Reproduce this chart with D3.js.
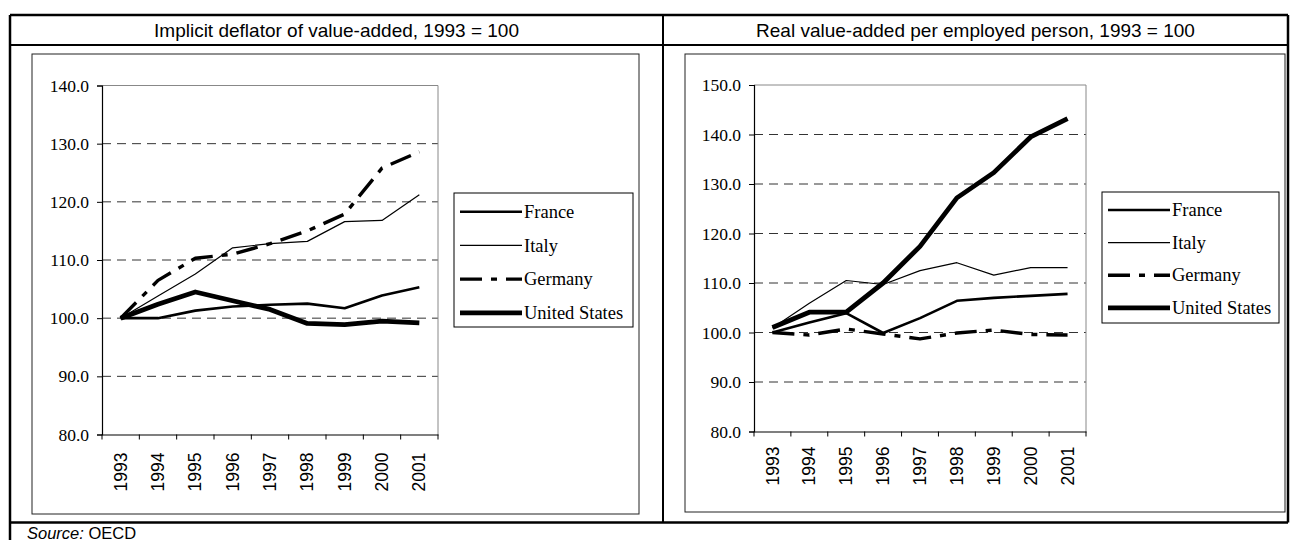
<!DOCTYPE html>
<html>
<head>
<meta charset="utf-8">
<script src="https://cdn.jsdelivr.net/npm/d3@7"></script>
<style>
  html, body { margin: 0; padding: 0; background: #fff; }
  svg { display: block; }
</style>
</head>
<body>
<svg id="chart" width="1294" height="540"></svg>
<script>
// ---------- DATA ----------
const years = ["1993", "1994", "1995", "1996", "1997", "1998", "1999", "2000", "2001"];
const seriesNames = ["France", "Italy", "Germany", "United States"];

// Left panel: implicit deflator of value-added, 1993 = 100
const deflFrance  = [100.0, 100.0, 101.3, 102.0, 102.3, 102.5, 101.7, 103.9, 105.3];
const deflItaly   = [100.0, 103.8, 107.6, 112.1, 112.8, 113.2, 116.6, 116.8, 121.2];
const deflGermany = [100.0, 106.5, 110.3, 111.0, 112.8, 115.0, 117.9, 125.8, 128.6];
const deflUS      = [100.0, 102.4, 104.5, 103.0, 101.5, 99.1, 98.9, 99.5, 99.2];
const deflTicks   = [80, 90, 100, 110, 120, 130, 140];

// Right panel: real value-added per employed person, 1993 = 100
const prodFrance  = [100.0, 102.0, 103.9, 99.9, 102.9, 106.4, 107.0, 107.4, 107.8];
const prodItaly   = [100.9, 105.9, 110.5, 109.7, 112.5, 114.1, 111.6, 113.1, 113.1];
const prodGermany = [100.0, 99.5, 100.7, 99.7, 98.7, 99.9, 100.5, 99.6, 99.5];
const prodUS      = [101.0, 104.1, 104.1, 110.0, 117.4, 127.2, 132.3, 139.5, 143.2];
const prodTicks   = [80, 90, 100, 110, 120, 130, 140, 150];

const titleLeft  = "Implicit deflator of value-added, 1993 = 100";
const titleRight = "Real value-added per employed person, 1993 = 100";

// ---------- STYLES ----------
const styles = {
  "France":        { width: 2.6, dash: null },
  "Italy":         { width: 1.2, dash: null },
  "Germany":       { width: 3.4, dash: "22,9,6,9" },
  "United States": { width: 4.8, dash: null }
};

const svg = d3.select("#chart");

// ---------- OUTER TABLE ----------
const T = { left: 10, right: 1288, top: 15, titleBottom: 45, rowBottom: 522.5, mid: 663 };
const tbl = svg.append("g").attr("stroke", "#000").attr("fill", "none");
tbl.append("line").attr("x1", T.left).attr("x2", T.right).attr("y1", T.top).attr("y2", T.top).attr("stroke-width", 2.5);
tbl.append("line").attr("x1", T.left).attr("x2", T.right).attr("y1", T.titleBottom).attr("y2", T.titleBottom).attr("stroke-width", 2);
tbl.append("line").attr("x1", T.left).attr("x2", T.right).attr("y1", T.rowBottom).attr("y2", T.rowBottom).attr("stroke-width", 2.5);
tbl.append("line").attr("x1", T.left).attr("x2", T.left).attr("y1", T.top).attr("y2", 545).attr("stroke-width", 2.5);
tbl.append("line").attr("x1", T.right).attr("x2", T.right).attr("y1", T.top).attr("y2", T.rowBottom).attr("stroke-width", 2.5);
tbl.append("line").attr("x1", T.mid).attr("x2", T.mid).attr("y1", T.top).attr("y2", T.rowBottom).attr("stroke-width", 2);

svg.append("text").attr("x", (T.left + T.mid) / 2).attr("y", 37)
  .attr("text-anchor", "middle").attr("font-family", "Liberation Sans, Arial, sans-serif")
  .attr("font-size", 19).text(titleLeft);
svg.append("text").attr("x", (T.mid + T.right) / 2).attr("y", 37)
  .attr("text-anchor", "middle").attr("font-family", "Liberation Sans, Arial, sans-serif")
  .attr("font-size", 19).text(titleRight);

const src = svg.append("text").attr("x", 27).attr("y", 538.5)
  .attr("font-family", "Liberation Sans, Arial, sans-serif").attr("font-size", 16.5);
src.append("tspan").attr("font-style", "italic").text("Source:");
src.append("tspan").text(" OECD");

// ---------- PANEL ----------
function panel(cfg) {
  const g = svg.append("g");
  // chart frame
  g.append("rect").attr("x", cfg.frame[0]).attr("y", cfg.frame[1])
    .attr("width", cfg.frame[2] - cfg.frame[0]).attr("height", cfg.frame[3] - cfg.frame[1])
    .attr("fill", "#fff").attr("stroke", "#222").attr("stroke-width", 1);

  const x = d3.scaleBand().domain(years).range([cfg.plot[0], cfg.plot[2]]).padding(0);
  const y = d3.scaleLinear().domain([cfg.ticks[0], cfg.ticks[cfg.ticks.length - 1]])
    .range([cfg.plot[3], cfg.plot[1]]);

  // grid lines
  g.append("g").selectAll("line")
    .data(cfg.ticks.slice(1, -1)).join("line")
    .attr("x1", cfg.plot[0]).attr("x2", cfg.plot[2])
    .attr("y1", d => y(d)).attr("y2", d => y(d))
    .attr("stroke", "#333").attr("stroke-width", 1).attr("stroke-dasharray", "9,6");

  // plot border (top & right), gray
  const top = y(cfg.ticks[cfg.ticks.length - 1]);
  g.append("path")
    .attr("d", `M${cfg.plot[0]},${top}H${cfg.plot[2]}V${cfg.plot[3]}`)
    .attr("fill", "none").attr("stroke", "#888").attr("stroke-width", 1);

  // y axis
  const ya = g.append("g").attr("transform", `translate(${cfg.plot[0]},0)`)
    .call(d3.axisLeft(y).tickValues(cfg.ticks).tickFormat(d3.format(".1f")).tickSize(5).tickPadding(8));
  ya.attr("font-family", "Liberation Serif, Times New Roman, serif").attr("font-size", 17.5);
  ya.select(".domain").attr("stroke", "#000").attr("stroke-width", 1.2);
  ya.selectAll(".tick line").attr("stroke", "#000");
  ya.selectAll("text").attr("fill", "#000")
    .style("font-family", "'Liberation Serif', 'Times New Roman', serif").style("font-size", "17.5px");

  // x axis (ticks between categories)
  const xa = g.append("g").attr("transform", `translate(0,${cfg.plot[3]})`);
  xa.call(d3.axisBottom(x).tickSize(0).tickSizeOuter(0));
  xa.select(".domain").attr("stroke", "#000").attr("stroke-width", 1.2);
  xa.selectAll(".tick text")
    .style("font-family", "'Liberation Sans', Arial, sans-serif").style("font-size", "17.5px")
    .attr("fill", "#000")
    .attr("text-anchor", "end").attr("dy", "0.35em")
    .attr("transform", `translate(0,${cfg.labelGap}) rotate(-90)`)
    .attr("x", 0).attr("y", 0);
  const bounds = years.map(d => x(d)).concat([x(years[years.length - 1]) + x.bandwidth()]);
  xa.selectAll("line.btick").data(bounds).join("line").attr("class", "btick")
    .attr("x1", d => d).attr("x2", d => d).attr("y1", 0).attr("y2", 5)
    .attr("stroke", "#000").attr("stroke-width", 1);

  // lines
  const line = d3.line().x((d, i) => x(years[i]) + x.bandwidth() / 2).y(d => y(d));
  const order = ["Italy", "France", "Germany", "United States"];
  order.forEach(name => {
    const st = styles[name];
    g.append("path").datum(cfg.data[name])
      .attr("d", line).attr("fill", "none").attr("stroke", "#000")
      .attr("stroke-width", st.width).attr("stroke-linejoin", "round")
      .attr("stroke-dasharray", st.dash);
  });

  // legend
  const L = cfg.legend;
  const lg = g.append("g");
  lg.append("rect").attr("x", L.x0).attr("y", L.y0).attr("width", L.x1 - L.x0).attr("height", L.y1 - L.y0)
    .attr("fill", "#fff").attr("stroke", "#000").attr("stroke-width", 1);
  seriesNames.forEach((name, i) => {
    const yy = L.y0 + L.first + i * L.step;
    const st = styles[name];
    lg.append("line").attr("x1", L.x0 + 6).attr("x2", L.x0 + 68).attr("y1", yy).attr("y2", yy)
      .attr("stroke", "#000").attr("stroke-width", st.width).attr("stroke-dasharray", st.dash);
    lg.append("text").attr("x", L.x0 + 70).attr("y", yy).attr("dy", "0.33em")
      .style("font-family", "'Liberation Serif', 'Times New Roman', serif").style("font-size", "18.5px")
      .text(name);
  });
}

panel({
  frame: [32, 54, 639, 514],
  plot: [102, 85.5, 438, 434.5],
  ticks: deflTicks,
  labelGap: 18,
  data: { "France": deflFrance, "Italy": deflItaly, "Germany": deflGermany, "United States": deflUS },
  legend: { x0: 454, x1: 633, y0: 193, y1: 327, first: 18.7, step: 33.7 }
});

panel({
  frame: [685, 54, 1285, 512],
  plot: [754, 85, 1086, 431.5],
  ticks: prodTicks,
  labelGap: 15,
  data: { "France": prodFrance, "Italy": prodItaly, "Germany": prodGermany, "United States": prodUS },
  legend: { x0: 1102, x1: 1279, y0: 192, y1: 323, first: 18, step: 32.6 }
});
</script>
</body>
</html>
